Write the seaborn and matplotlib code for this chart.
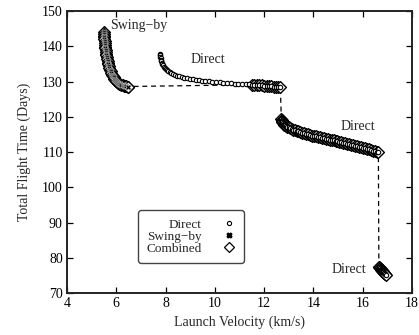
import numpy as np
import pandas as pd
import matplotlib
matplotlib.use("Agg")
import matplotlib.pyplot as plt
import seaborn as sns
from matplotlib.lines import Line2D

# Swing-by branch
swing_v = [5.50, 5.505, 5.51, 5.515, 5.52, 5.525, 5.53, 5.54, 5.55, 5.56, 5.57, 5.58,
           5.59, 5.60, 5.615, 5.63, 5.645, 5.66, 5.68, 5.70, 5.72, 5.745, 5.77, 5.80,
           5.83, 5.86, 5.89, 5.925, 5.96, 6.00, 6.04, 6.08, 6.12, 6.16, 6.21, 6.26,
           6.31, 6.36, 6.41, 6.46, 6.49]
swing_t = [144.0, 143.5, 143.0, 142.5, 142.0, 141.5, 141.0, 140.4, 139.9, 139.4, 138.9, 138.4,
           137.9, 137.4, 136.9, 136.4, 135.9, 135.4, 134.9, 134.4, 133.9, 133.4, 132.9, 132.4,
           132.0, 131.6, 131.2, 130.8, 130.5, 130.2, 129.9, 129.6, 129.4, 129.2, 129.0, 128.9,
           128.8, 128.7, 128.65, 128.6, 128.6]

# Direct branches
direct1_v = [7.78, 7.785, 7.79, 7.80, 7.81, 7.83, 7.85, 7.87, 7.90, 7.93, 7.97, 8.01,
             8.06, 8.11, 8.17, 8.24, 8.31, 8.39, 8.47, 8.56, 8.66, 8.76, 8.87, 8.98,
             9.10, 9.22, 9.35, 9.48, 9.62, 9.76, 9.90, 10.05, 10.20, 10.35, 10.50, 10.65,
             10.80, 10.95, 11.10, 11.25, 11.40, 11.50, 11.60, 11.70, 11.80, 11.90, 12.00,
             12.10, 12.20, 12.30, 12.40, 12.50, 12.58, 12.66]
direct1_t = [137.8, 137.4, 137.0, 136.6, 136.2, 135.8, 135.4, 135.0, 134.6, 134.2, 133.9, 133.6,
             133.3, 133.0, 132.7, 132.4, 132.1, 131.9, 131.7, 131.5, 131.3, 131.1, 130.95, 130.8,
             130.65, 130.5, 130.4, 130.3, 130.2, 130.1, 130.0, 129.9, 129.8, 129.7, 129.6, 129.5,
             129.45, 129.4, 129.3, 129.25, 129.2, 129.1, 129.05, 129.0, 128.95, 128.9, 128.85,
             128.8, 128.75, 128.7, 128.6, 128.55, 128.5, 128.4]
direct2_v = [12.70, 12.71, 12.72, 12.74, 12.76, 12.79, 12.82, 12.86, 12.90, 12.95, 13.00,
             13.06, 13.12, 13.18, 13.25, 13.32, 13.39, 13.46, 13.54, 13.62, 13.70, 13.78,
             13.86, 13.94, 14.02, 14.10, 14.18, 14.26, 14.34, 14.42, 14.50, 14.58, 14.66,
             14.74, 14.82, 14.90, 14.98, 15.06, 15.14, 15.22, 15.30, 15.38, 15.46, 15.54,
             15.62, 15.70, 15.78, 15.86, 15.94, 16.02, 16.10, 16.18, 16.26, 16.34, 16.42,
             16.50, 16.58, 16.64]
direct2_t = [119.3, 119.1, 118.9, 118.6, 118.3, 118.0, 117.8, 117.55, 117.35, 117.15, 117.0,
             116.8, 116.6, 116.4, 116.2, 116.05, 115.9, 115.7, 115.5, 115.35, 115.2, 115.05,
             114.9, 114.7, 114.55, 114.45, 114.3, 114.2, 114.05, 113.95, 113.8, 113.65, 113.55,
             113.4, 113.3, 113.15, 113.05, 112.9, 112.75, 112.65, 112.5, 112.4, 112.25, 112.1,
             111.95, 111.8, 111.65, 111.5, 111.4, 111.25, 111.1, 110.95, 110.8, 110.6, 110.45,
             110.3, 110.15, 110.0]
direct3_v = [16.66, 16.68, 16.70, 16.72, 16.74, 16.76, 16.78, 16.80, 16.82, 16.84, 16.86,
             16.88, 16.90, 16.92, 16.94]
direct3_t = [77.5, 77.3, 77.15, 77.0, 76.8, 76.65, 76.5, 76.3, 76.15, 76.0, 75.8,
             75.65, 75.5, 75.35, 75.2]

# first direct point that belongs to the combined front
front_start = 41

# Combined (Pareto) front
comb_v = swing_v + direct1_v[front_start:] + direct2_v + direct3_v
comb_t = swing_t + direct1_t[front_start:] + direct2_t + direct3_t

sns.set_style("ticks")
plt.rcParams["font.family"] = ["Liberation Serif", "DejaVu Serif"]
plt.rcParams["font.size"] = 10

fig, ax = plt.subplots(figsize=(4.19, 3.35), dpi=100)
fig.subplots_adjust(left=0.16, right=0.983, top=0.967, bottom=0.125)

direct = pd.DataFrame({
    "v": direct1_v + direct2_v + direct3_v,
    "t": direct1_t + direct2_t + direct3_t,
})
swing = pd.DataFrame({"v": swing_v, "t": swing_t})
comb = pd.DataFrame({"v": comb_v, "t": comb_t})

# dashed connection of the combined front
ax.plot(comb["v"], comb["t"], ls=(0, (4, 3)), color="black", lw=0.9, zorder=1)

sns.scatterplot(data=comb, x="v", y="t", ax=ax, marker="D", s=36,
                facecolor="white", edgecolor="black", linewidth=1.0, zorder=2)
sns.scatterplot(data=direct, x="v", y="t", ax=ax, marker="o", s=10,
                facecolor="white", edgecolor="black", linewidth=0.8, zorder=3)
sns.scatterplot(data=swing, x="v", y="t", ax=ax, marker="X", s=16,
                color="black", linewidth=0.3, zorder=3)

ax.set_xlim(4, 18)
ax.set_ylim(70, 150)
ax.set_xticks(range(4, 19, 2))
ax.set_yticks(range(70, 151, 10))
ax.set_xlabel("Launch Velocity (km/s)", labelpad=4)
ax.set_ylabel("Total Flight Time (Days)", labelpad=8)
ax.tick_params(direction="in", length=4, width=0.9, top=True, right=True, pad=3,
               colors="black", labelsize=10)
for sp in ax.spines.values():
    sp.set_visible(True)
    sp.set_linewidth(1.4)
    sp.set_color("#222222")

ax.text(5.75, 145.8, "Swing\u2212by", va="center", ha="left")
ax.text(9.0, 136.3, "Direct", va="center", ha="left")
ax.text(15.1, 117.3, "Direct", va="center", ha="left")
ax.text(14.75, 76.7, "Direct", va="center", ha="left")

handles = [
    Line2D([], [], ls="none", marker="o", ms=3, mfc="white", mec="black", mew=0.8),
    Line2D([], [], ls="none", marker="X", ms=3.5, color="black"),
    Line2D([], [], ls="none", marker="D", ms=5.5, mfc="white", mec="black", mew=0.9),
]
leg = ax.legend(handles, ["Direct", "Swing\u2212by", "Combined"], loc="center",
                bbox_to_anchor=(0.36, 0.2), markerfirst=False, frameon=True,
                fancybox=True, labelspacing=0.0, handletextpad=1.6, handlelength=1.0,
                borderpad=0.6, borderaxespad=0, fontsize=9.5)
for t in leg.get_texts():
    t.set_ha("right")
leg._legend_box.align = "right"
frame = leg.get_frame()
frame.set_edgecolor("#444444")
frame.set_linewidth(1.0)
frame.set_alpha(1)

fig.savefig("out.png", dpi=100)
